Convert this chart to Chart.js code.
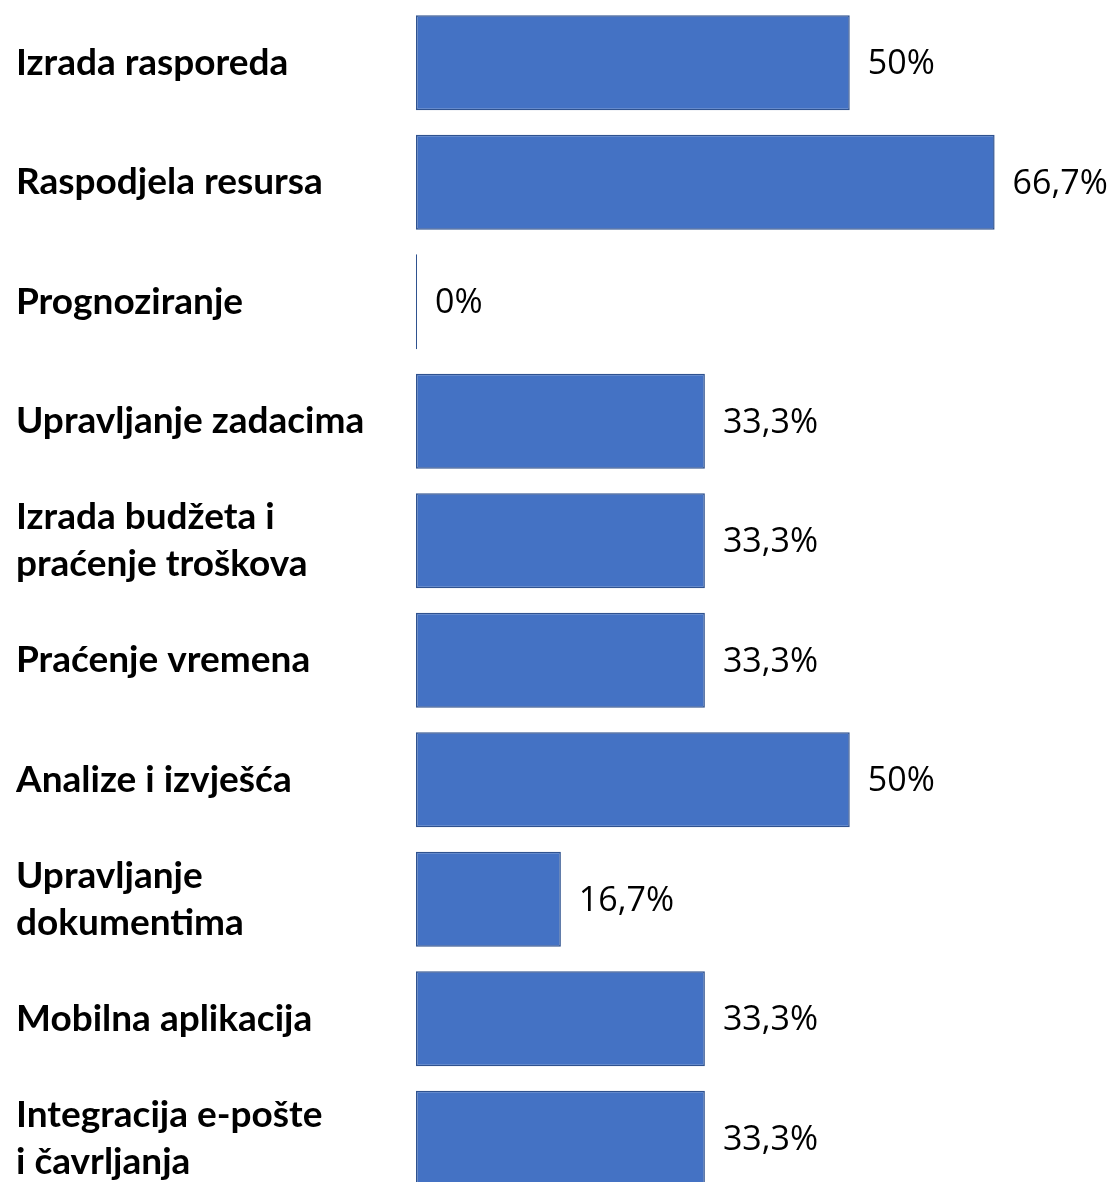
<!DOCTYPE html>
<html>
<head>
<meta charset="utf-8">
<script src="https://cdn.jsdelivr.net/npm/chart.js@4.4.0/dist/chart.umd.min.js"></script>
<style>
  html, body { margin: 0; padding: 0; background: #fff; overflow: hidden; }
  #wrap { width: 1110px; height: 1200px; }
</style>
</head>
<body>
<div id="wrap"><canvas id="c" width="1110" height="1200"></canvas></div>
<script>
const categories = [
  "Izrada rasporeda",
  "Raspodjela resursa",
  "Prognoziranje",
  "Upravljanje zadacima",
  ["Izrada budžeta i", "praćenje troškova"],
  "Praćenje vremena",
  "Analize i izvješća",
  ["Upravljanje", "dokumentima"],
  "Mobilna aplikacija",
  ["Integracija e-pošte", "i čavrljanja"]
];
const values = [50, 66.7, 0, 33.3, 33.3, 33.3, 50, 16.7, 33.3, 33.3];
const valueLabels = ["50%", "66,7%", "0%", "33,3%", "33,3%", "33,3%", "50%", "16,7%", "33,3%", "33,3%"];

const labelPlugin = {
  id: 'valueLabels',
  afterDatasetsDraw(chart) {
    const ctx = chart.ctx;
    const meta = chart.getDatasetMeta(0);
    ctx.save();
    ctx.font = '34px "Open Sans", sans-serif';
    ctx.fillStyle = '#000';
    ctx.textAlign = 'left';
    ctx.textBaseline = 'middle';
    meta.data.forEach((bar, i) => {
      ctx.fillText(valueLabels[i], bar.x + 18, bar.y + 2);
    });
    ctx.restore();
  }
};

new Chart(document.getElementById('c'), {
  type: 'bar',
  data: {
    labels: categories,
    datasets: [{
      data: values,
      backgroundColor: '#4472C4',
      borderColor: '#2F528F',
      borderWidth: 1.5,
      borderSkipped: false,
      minBarLength: 1,
      barPercentage: 0.795,
      categoryPercentage: 1
    }]
  },
  options: {
    indexAxis: 'y',
    responsive: false,
    animation: false,
    layout: { padding: { left: 16, right: 0, top: 3, bottom: 2 } },
    plugins: { legend: { display: false }, tooltip: { enabled: false } },
    scales: {
      x: { display: false, min: 0, max: 80 },
      y: {
        grid: { display: false, drawTicks: false },
        border: { display: false },
        afterFit(scale) { scale.width = 400; scale.paddingTop = 0; scale.paddingBottom = 0; },
        ticks: {
          crossAlign: 'far',
          color: '#000',
          padding: 0,
          autoSkip: false,
          font: { family: 'Lato', weight: 'bold', size: 37, lineHeight: 1.27 }
        }
      }
    }
  },
  plugins: [labelPlugin]
});
</script>
</body>
</html>
